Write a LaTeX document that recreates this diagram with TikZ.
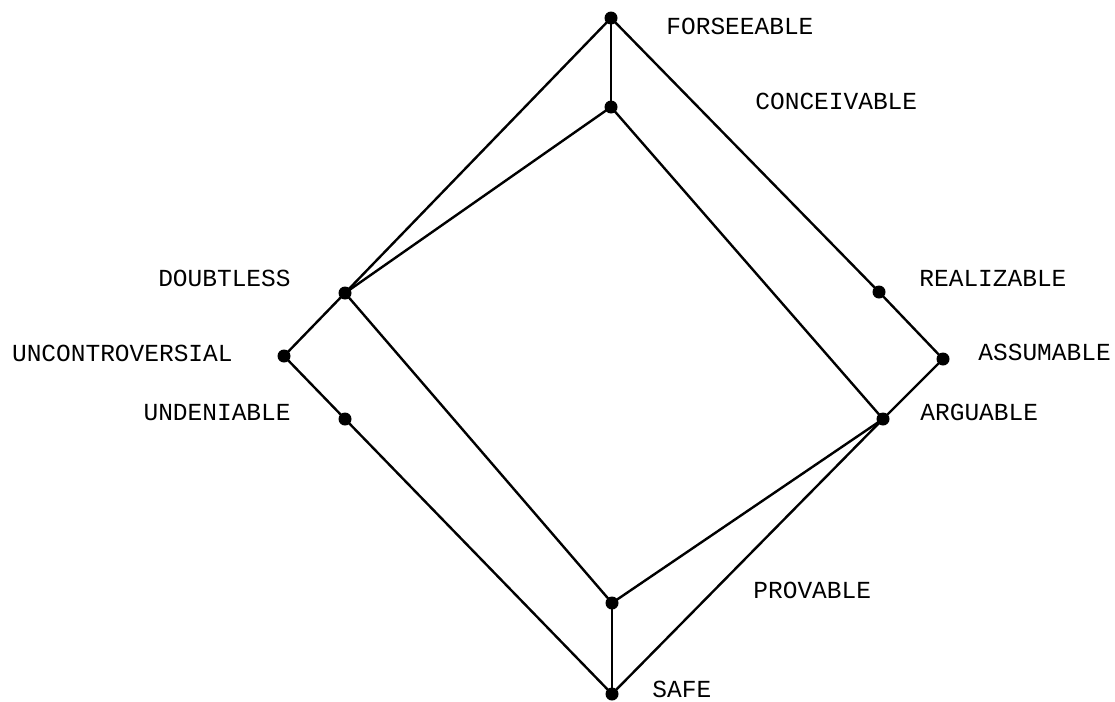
\documentclass[tikz,border=0pt]{standalone}
\usepackage{fontspec}
\setmonofont{Liberation Mono}
\usepackage{tikz}
\usetikzlibrary{positioning}
\tikzset{
  dot/.style={circle, fill=black, minimum size=6.5pt, inner sep=0pt},
  lbl/.style={inner sep=0pt, font=\ttfamily\fontsize{12.25}{14}\selectfont},
  edge/.style={line width=1.2pt, line cap=round}
}

\begin{document}
\begin{tikzpicture}[x=0.5pt, y=-0.5pt]
\useasboundingbox (0,0) rectangle (1115,702);
% points of the lattice
\node[dot] (fo) at (611,18) {};
\node[dot] (co) at (611,107) {};
\node[dot] (re) at (879,292) {};
\node[dot] (as) at (943,359) {};
\node[dot] (ar) at (883,419) {};
\node[dot] (pr) at (612,603) {};
\node[dot] (sa) at (612,694) {};
\node[dot] (do) at (345,293) {};
\node[dot] (un) at (284,356) {};
\node[dot] (ud) at (345,419) {};
% names
\node[lbl, anchor=west] (tfo) at (666,26) {FORSEEABLE};
\node[lbl, anchor=west] (tco) at (755,101) {CONCEIVABLE};
\node[lbl, anchor=west] (tre) at (919,278) {REALIZABLE};
\node[lbl, anchor=west] (tas) at (978,352) {ASSUMABLE};
\node[lbl, anchor=west] (tar) at (920,412) {ARGUABLE};
\node[lbl, anchor=west] (tpr) at (753,590) {PROVABLE};
\node[lbl, anchor=west] (tsa) at (652,689) {SAFE};
\node[lbl, anchor=east] (tdo) at (291,278) {DOUBTLESS};
\node[lbl, anchor=east] (tun) at (233,353) {UNCONTROVERSIAL};
\node[lbl, anchor=east] (tud) at (291,413) {UNDENIABLE};
% lines
\draw[edge] (fo.center) -- (co.center);
\draw[edge] (fo.center) -- (re.center) -- (as.center) -- (ar.center);
\draw[edge] (co.center) -- (ar.center);
\draw[edge] (fo.center) -- (do.center);
\draw[edge] (co.center) -- (do.center);
\draw[edge] (do.center) -- (un.center) -- (ud.center) -- (sa.center);
\draw[edge] (do.center) -- (pr.center);
\draw[edge] (pr.center) -- (ar.center);
\draw[edge] (ar.center) -- (sa.center);
\draw[edge] (pr.center) -- (sa.center);
\end{tikzpicture}
\end{document}
